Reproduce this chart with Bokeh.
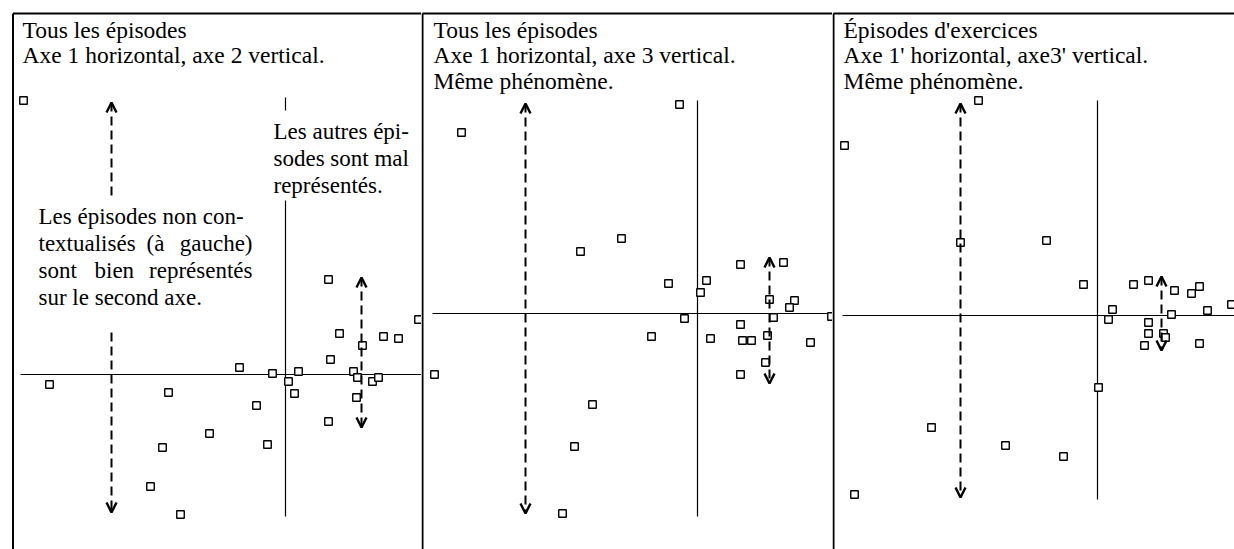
from bokeh.plotting import figure
from bokeh.models import Range1d, Arrow, OpenHead
from bokeh.layouts import row
from bokeh.embed import file_html
from bokeh.resources import INLINE
from bokeh.core.properties import value

FONT = "Liberation Serif"
FS_TITLE = "23.5px"
FS_NOTE = "23px"

# ---------------- data: factor coordinates ----------------
# Panel 1: all episodes, axis 1 (horizontal) x axis 2 (vertical)
p1_x = [-2.62, 0.43, 1.33, 0.54, 0.98, 1.13, 0.77, 0.45, -0.46, -0.13, 0.13, 0.68, 0.72, 0.03,
        0.87, 0.93, -2.36, -1.17, 0.09, -0.29, 0.71, 0.43, -0.76, -1.23, -0.18, -1.35, -1.05]
p1_y = [2.74, 0.95, 0.55, 0.41, 0.38, 0.36, 0.29, 0.15, 0.07, 0.01, 0.03, 0.03, -0.03, -0.07,
        -0.07, -0.03, -0.10, -0.18, -0.19, -0.31, -0.23, -0.47, -0.59, -0.73, -0.70, -1.12, -1.40]

# Panel 2: all episodes, axis 1 (horizontal) x axis 3 (vertical)
p2_x = [-2.36, -0.18, -1.17, -0.76, 0.43, 0.86, -0.29, 0.09, 0.03, 0.72, 0.97, 0.92, -0.13, 0.76,
        1.34, 0.43, -0.46, 0.13, 0.45, 0.54, 0.70, 1.13, 0.68, 0.43, -2.63, -1.05, -1.23, -1.35]
p2_y = [1.81, 2.09, 0.62, 0.75, 0.49, 0.51, 0.30, 0.33, 0.21, 0.14, 0.13, 0.06, -0.05, -0.04,
        -0.03, -0.11, -0.23, -0.25, -0.27, -0.27, -0.22, -0.29, -0.49, -0.61, -0.61, -0.91, -1.33, -2.00]

# Panel 3: exercise episodes, axis 1' (horizontal) x axis 3' (vertical)
p3_x = [-1.19, -2.53, -1.37, -0.51, -0.14, 0.36, 0.51, 0.77, 0.94, 1.02, 1.34, 0.15, 0.11,
        0.74, 1.10, 0.51, 0.51, 0.66, 0.68, 0.47, 1.02, 0.01, -1.66, -0.92, -0.34, -2.43]
p3_y = [2.15, 1.70, 0.73, 0.75, 0.31, 0.31, 0.35, 0.25, 0.22, 0.29, 0.11, 0.06, -0.04,
        0.01, 0.05, -0.07, -0.18, -0.18, -0.22, -0.30, -0.28, -0.72, -1.12, -1.30, -1.41, -1.79]

titles1 = ["Tous les épisodes", "Axe 1 horizontal, axe 2 vertical."]
titles2 = ["Tous les épisodes", "Axe 1 horizontal, axe 3 vertical.", "Même phénomène."]
titles3 = ["Épisodes d'exercices", "Axe 1' horizontal, axe3' vertical.", "Même phénomène."]

# ---------------- layout (page pixels) ----------------
S = 100.0            # pixels per factor unit
TOP, BOTTOM = 0, 549


class Panel:
    def __init__(self, left, right, ox, oy):
        self.left, self.right, self.ox, self.oy = left, right, ox, oy
        self.p = figure(width=right - left, height=BOTTOM - TOP,
                        x_range=Range1d((left - ox) / S, (right - ox) / S),
                        y_range=Range1d((oy - BOTTOM) / S, (oy - TOP) / S),
                        output_backend="svg", toolbar_location=None, min_border=0,
                        x_axis_location=None, y_axis_location=None,
                        outline_line_color=None, background_fill_color="white",
                        border_fill_color="white")
        self.p.grid.visible = False

    def X(self, px):
        return (px - self.ox) / S

    def Y(self, py):
        return (self.oy - py) / S

    def border(self, bx):
        self.p.segment(x0=[self.X(bx), self.X(bx)], y0=[self.Y(13), self.Y(13)],
                       x1=[self.X(bx), self.X(self.right + 20)], y1=[self.Y(560), self.Y(13)],
                       line_color="black", line_width=2)

    def axes(self, hx0, hx1, vsegs):
        xs0 = [self.X(hx0)] + [0.0 for _ in vsegs]
        xs1 = [self.X(hx1)] + [0.0 for _ in vsegs]
        ys0 = [0.0] + [self.Y(a) for a, b in vsegs]
        ys1 = [0.0] + [self.Y(b) for a, b in vsegs]
        self.p.segment(x0=xs0, y0=ys0, x1=xs1, y1=ys1, line_color="black", line_width=1.2)

    def points(self, xs, ys):
        self.p.scatter(x=xs, y=ys, marker="square", size=7.5, line_color="black",
                       line_width=1.4, fill_color="white")

    def arrow(self, px, y0, y1, start=True, end=True):
        head_s = OpenHead(size=10, line_width=2.4, line_color="black") if start else None
        head_e = OpenHead(size=10, line_width=2.4, line_color="black") if end else None
        self.p.add_layout(Arrow(start=head_s, end=head_e,
                                x_start=self.X(px), y_start=self.Y(y0),
                                x_end=self.X(px), y_end=self.Y(y1),
                                line_dash="9 5", line_width=2, line_color="black"))

    def text(self, px, py, txt, align="left", size=FS_NOTE):
        self.p.text(x=[self.X(px)], y=[self.Y(py)], text=[txt], text_font=value(FONT),
                    text_font_size=value(size), text_color="black", text_align=align,
                    text_baseline="alphabetic")


# Panel 1
A = Panel(0, 421, 285, 374)
A.border(12.5)
A.axes(20, 421, [(97, 110), (200, 516)])
A.points(p1_x, p1_y)
A.arrow(111, 195, 102, start=False, end=True)
A.arrow(111, 332, 512, start=False, end=True)
A.arrow(361, 277, 427)
for i, t in enumerate(titles1):
    A.text(22, 29 + 25 * i, t, size=FS_TITLE)
# left annotation (justified block)
A.text(38, 216, "Les épisodes non con-")
A.text(38, 243, "textualisés")
A.text(146, 243, "(à")
A.text(252, 243, "gauche)", "right")
A.text(38, 270, "sont")
A.text(94, 270, "bien")
A.text(252, 270, "représentés", "right")
A.text(38, 297, "sur le second axe.")
# right annotation
A.text(273, 131, "Les autres épi-")
A.text(273, 158, "sodes sont mal")
A.text(273, 185, "représentés.")

# Panel 2
B = Panel(421, 832, 697, 313)
B.border(422)
B.axes(432, 832, [(100, 516)])
B.points(p2_x, p2_y)
B.arrow(525, 103, 513)
B.arrow(769, 257, 383)
for i, t in enumerate(titles2):
    B.text(433, 29 + 25.5 * i, t, size=FS_TITLE)

# Panel 3
C = Panel(832, 1234, 1097, 315)
C.border(833)
C.axes(842, 1234, [(100, 499)])
C.points(p3_x, p3_y)
C.arrow(960, 103, 497)
C.arrow(1161, 276, 350)
for i, t in enumerate(titles3):
    C.text(843, 29 + 25.5 * i, t, size=FS_TITLE)

layout = row(A.p, B.p, C.p, spacing=0)
open("out.html", "w").write(file_html(layout, INLINE))
